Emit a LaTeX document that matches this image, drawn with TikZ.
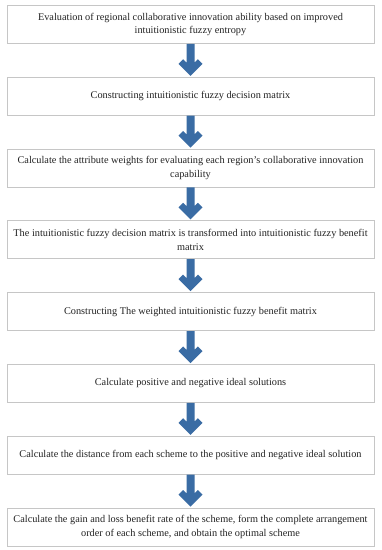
\documentclass[tikz,border=0pt]{standalone}
\usepackage{fontspec}
\setmainfont{Liberation Serif}
\usetikzlibrary{calc}
\definecolor{arrowblue}{RGB}{58,108,164}
\definecolor{boxgray}{RGB}{198,198,198}
\definecolor{txtgray}{RGB}{35,35,35}
\newcommand\flowarr[2]{%
  \fill[arrowblue] let \p1=(#1.south), \p2=(#2.north) in
    (\x1,\y2+1pt) -- (\x1-12pt,\y2+13pt) -- (\x1-7.4pt,\y2+17.6pt) -- (\x1-4pt,\y2+14.2pt)
    -- (\x1-4pt,\y1) -- (\x1+4pt,\y1) -- (\x1+4pt,\y2+14.2pt) -- (\x1+7.4pt,\y2+17.6pt)
    -- (\x1+12pt,\y2+13pt) -- cycle;}
\begin{document}
\begin{tikzpicture}[x=1pt,y=-1pt,
  stepbox/.style={draw=boxgray, line width=0.8pt, minimum width=367pt, minimum height=38pt,
    inner sep=0pt, align=center, anchor=north, text=txtgray,
    font=\fontsize{10.3}{13.6}\selectfont}]
\useasboundingbox[fill=white] (0,0) rectangle (382,550);
\node[stepbox] (s1) at (190.5,5) {Evaluation of regional collaborative innovation ability based on improved\\intuitionistic fuzzy entropy};
\node[stepbox] (s2) at (190.5,76.8) {Constructing intuitionistic fuzzy decision matrix};
\node[stepbox] (s3) at (190.5,148.6) {Calculate the attribute weights for evaluating each region’s collaborative innovation\\capability};
\node[stepbox] (s4) at (190.5,220.4) {The intuitionistic fuzzy decision matrix is transformed into intuitionistic fuzzy benefit\\matrix};
\node[stepbox] (s5) at (190.5,292.2) {Constructing The weighted intuitionistic fuzzy benefit matrix};
\node[stepbox] (s6) at (190.5,364) {Calculate positive and negative ideal solutions};
\node[stepbox] (s7) at (190.5,435.8) {Calculate the distance from each scheme to the positive and negative ideal solution};
\node[stepbox] (s8) at (190.5,507.6) {Calculate the gain and loss benefit rate of the scheme, form the complete arrangement\\order of each scheme, and obtain the optimal scheme};
\flowarr{s1}{s2}
\flowarr{s2}{s3}
\flowarr{s3}{s4}
\flowarr{s4}{s5}
\flowarr{s5}{s6}
\flowarr{s6}{s7}
\flowarr{s7}{s8}
\end{tikzpicture}
\end{document}
